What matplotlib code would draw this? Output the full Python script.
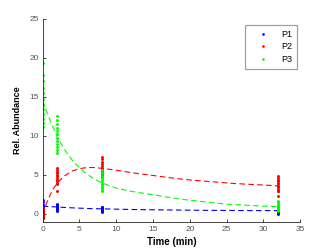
import numpy as np
import matplotlib.pyplot as plt

plt.rcParams['font.family'] = ['Liberation Sans', 'DejaVu Sans']

# replicate measurements at each time point
t_obs = [0, 2, 8, 32]
p1_obs = [
    [1.8, 1.5, 1.2, 1.1, 1.0, 1.0, 0.9, 0.9, 0.8, 0.7, 0.5, 0.3],
    [1.25, 1.1, 1.0, 0.95, 0.9, 0.85, 0.8, 0.75, 0.7, 0.6, 0.5, 0.4],
    [0.95, 0.85, 0.8, 0.7, 0.65, 0.6, 0.6, 0.55, 0.5, 0.45, 0.4, 0.3],
    [0.65, 0.6, 0.55, 0.5, 0.45, 0.4, 0.35, 0.3, 0.25, 0.2, 0.1, 0.0],
]
p2_obs = [
    [0.7, 0.5, 0.3, 0.2, 0.1, 0.0, -0.1, -0.2, -0.3, -0.4, -0.5, -0.55],
    [5.85, 5.6, 5.4, 5.2, 5.0, 4.8, 4.6, 4.4, 4.2, 4.0, 3.9, 2.9],
    [7.35, 7.0, 6.7, 6.4, 6.1, 5.9, 5.7, 5.5, 5.3, 5.1, 4.9, 4.8],
    [4.8, 4.6, 4.4, 4.2, 4.0, 3.8, 3.6, 3.4, 3.2, 3.0, 2.9, 2.3],
]
p3_obs = [
    [19.3, 17.8, 17.0, 16.2, 15.5, 14.8, 14.0, 13.4, 12.8, 12.2, 11.7, 11.2],
    [12.6, 12.0, 11.5, 11.0, 10.6, 10.2, 9.8, 9.4, 9.0, 8.6, 8.2, 7.8],
    [5.6, 5.2, 4.9, 4.6, 4.3, 4.1, 3.9, 3.7, 3.5, 3.3, 3.1, 2.9],
    [1.65, 1.5, 1.35, 1.2, 1.1, 1.0, 0.9, 0.8, 0.7, 0.6, 0.5, 0.35],
]

# fitted curves
t_fit = [0, 0.5, 1, 1.5, 2, 3, 4, 5, 6, 7, 8, 10, 12, 14, 16, 18, 20, 22, 24, 26, 28, 30, 32]
p1_fit = [1.0, 0.97, 0.94, 0.91, 0.88, 0.83, 0.78, 0.74, 0.7, 0.67, 0.65, 0.61, 0.57, 0.54,
          0.52, 0.5, 0.48, 0.46, 0.45, 0.44, 0.43, 0.425, 0.42]
p2_fit = [0.0, 1.3, 2.4, 3.3, 4.0, 4.9, 5.5, 5.8, 5.95, 5.95, 5.85, 5.6, 5.3, 5.05,
          4.8, 4.55, 4.35, 4.2, 4.05, 3.9, 3.8, 3.7, 3.6]
p3_fit = [14.5, 13.2, 12.0, 10.9, 9.8, 8.2, 6.9, 5.9, 5.1, 4.5, 4.0, 3.3, 2.9, 2.6,
          2.3, 2.0, 1.75, 1.55, 1.35, 1.2, 1.1, 1.0, 0.94]

names = ['P1', 'P2', 'P3']
colors = ['#0000ff', '#ff0000', '#00ff00']

fig = plt.figure(figsize=(3.32, 2.49), dpi=100)
ax = fig.add_axes([0.1286, 0.1096, 0.7759, 0.8141])

handles = []
for obs, fit, c, name in zip([p1_obs, p2_obs, p3_obs], [p1_fit, p2_fit, p3_fit], colors, names):
    for t, vals in zip(t_obs, obs):
        h, = ax.plot([t] * len(vals), vals, linestyle='none', marker='.',
                     markersize=2.2, color=c, label=name)
    handles.append(h)
    ax.plot(t_fit, fit, linestyle=(0, (5, 3)), color=c, linewidth=0.8)

ax.set_xlim(0, 35)
ax.set_ylim(-1, 25)
ax.set_xticks(range(0, 36, 5))
ax.set_yticks(range(0, 26, 5))
for s in ['top', 'right']:
    ax.spines[s].set_visible(False)
for s in ['left', 'bottom']:
    ax.spines[s].set_color('#262626')
    ax.spines[s].set_linewidth(0.6)
ax.tick_params(direction='in', length=2.5, width=0.6, colors='#262626',
               labelsize=6, labelcolor='#555555', pad=3)
ax.set_xlabel('Time (min)', fontsize=7, fontweight='bold', labelpad=3)
ax.set_ylabel('Rel. Abundance', fontsize=6.5, fontweight='bold', labelpad=5)

leg = ax.legend(handles=handles, loc='upper right', bbox_to_anchor=(0.895, 0.9),
                bbox_transform=fig.transFigure, borderaxespad=0, fontsize=6.5,
                fancybox=False, edgecolor='#a0a0a0', framealpha=1,
                handlelength=3.0, handletextpad=0.5, labelspacing=0.4,
                borderpad=0.55, markerscale=0.8)
leg.get_frame().set_linewidth(0.9)

fig.savefig('out.png', dpi=100)
